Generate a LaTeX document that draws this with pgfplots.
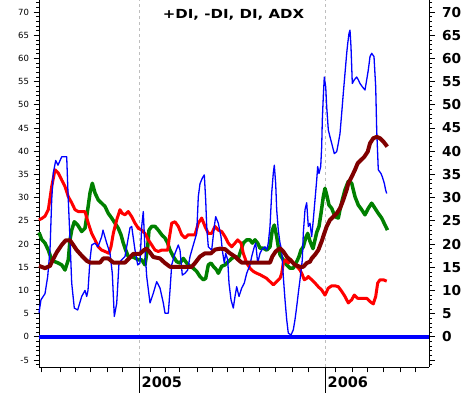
\documentclass[border=0pt]{standalone}
\usepackage{fontspec}
\setmainfont{DejaVu Sans}
\usepackage{pgfplots}
\pgfplotsset{compat=1.18}
\definecolor{dkred}{RGB}{128,0,0}
\definecolor{dgreen}{RGB}{0,128,0}
\definecolor{gridgray}{RGB}{190,190,190}
\begin{document}
\begin{tikzpicture}[x=1pt,y=1pt]
\useasboundingbox (0,0) rectangle (467,393);
\pgfplotsset{
  common/.style={
    at={(39pt,26pt)}, anchor=south west, scale only axis,
    width=390pt, height=367pt,
    xmin=39, xmax=429, ymin=-6.5, ymax=72.6,
    tick align=outside,
    major tick length=5.5pt, minor tick length=3pt,
    ytick={-5,0,...,70}, minor ytick={-6,...,72},
    axis line style={line width=0.9pt},
    every tick/.style={black, line width=0.7pt},
    /pgf/number format/assume math mode=true,
  }
}
\begin{axis}[common,
  axis x line*=bottom, axis y line*=left,
  xtick={41.7,60,75,90,107,122,150,165,179,197,212,227,243,259,275,292,308,335,352,367,383,400,415},
  xticklabels={},
  extra x ticks={139,325}, extra x tick labels={},
  extra x tick style={major tick length=26pt, grid=major},
  major grid style={gridgray, line width=0.8pt, dash pattern=on 3pt off 3pt},
  yticklabel style={font=\fontsize{8.5}{9}\selectfont, xshift=-1pt},
  clip=false,
]
\addplot[blue, line width=4pt] coordinates {(39,0) (429,0)};
% +DI (green)
\addplot[dgreen, line width=3.5pt, line join=round] coordinates {
(39,22.5) (41.7,21) (45,20.2) (48.3,18.7) (51.7,16.6) (55,16.2) (58.3,15.9) (61.7,15.5) (65,14.4) (68.3,16.6)
(70,20.9) (71.7,23) (74.3,24.8) (77.7,24.1) (81.7,22.7) (85,23.4) (87.7,27.4) (90,31) (92.3,33.1) (95,31)
(98.3,29.5) (101.7,28.8) (105,28.1) (108.3,26.6) (111.7,25.6) (115,24.5) (118.3,23.4) (121,22) (123.3,20.2)
(125.7,18.7) (128.3,17.3) (131.7,17.3) (135,17) (138.3,16.6) (141.7,16.6) (145,15.5) (147.7,19.4) (149,23)
(151.7,23.8) (155,23.8) (158.3,23) (161.7,22) (165,21.3) (167.7,20.2) (170,18.7) (173.3,17.3) (176.7,16.2)
(180,15.9) (183.3,16.9) (186.7,15.9) (190,15.2) (193.3,14.8) (196.7,14.1) (200,13) (203.3,12.3) (205.7,12.6)
(208.3,15.5) (211,15.9) (213.3,15.2) (216.7,14.4) (218.3,13.7) (221.7,15.2) (225,15.5) (228.3,16.2) (231.7,16.9)
(235,17.3) (238.3,16.9) (241,18.7) (243.3,20.2) (246.7,20.9) (250,20.9) (252.3,20.2) (255,20.9) (257.7,20.2)
(260,19.1) (263.3,19.1) (266.7,18.7) (270,19.4) (272.3,23) (274.3,24.1) (276.7,21.6) (278.3,19.4) (280,17.7)
(283.3,16.6) (286.7,15.5) (290,14.8) (293.3,14.8) (296.7,16.2) (299,17.3) (301,18.7) (303.3,19.4) (305.7,21.3)
(307.7,22.3) (310,20.6) (313,19) (316.7,22.5) (319,23.8) (321,26.6) (323.3,30.2) (325,32) (326.7,30.6)
(329,28.4) (331.7,27.7) (335,25.9) (338.3,25.6) (340,27.4) (342.3,29.5) (345,31.7) (348.3,33.5) (351.7,33.1)
(355,30.2) (358.3,28.4) (361.7,27.4) (365,26.3) (368.3,27.7) (371.7,28.8) (375,27.7) (378.3,26.6) (381.7,25.6)
(385,24.1) (387.5,23)
};
% -DI (red)
\addplot[red, line width=3pt, line join=round] coordinates {
(39,25.2) (41.7,25.5) (45,26) (48.3,27.4) (51.7,32.4) (55,36) (58.3,35.3) (61.7,33.8) (65,32.4) (68.3,30.2)
(71.7,28.9) (75,27.4) (78.3,27) (85,27) (88.3,24.5) (91.7,22.3) (95,20.9) (98.3,19.4) (101.7,18.7) (105,18.4)
(109,18) (111,19.4) (113.3,22.3) (116.7,25.2) (120,27.4) (122.3,26.6) (125,26.3) (128.3,27) (131.7,25.9)
(135,24.5) (138.3,23.4) (141.7,23) (145,22.3) (148.3,20.9) (151.7,19.8) (155,18.7) (158.3,18.4) (161.7,18.7)
(167.7,18.7) (169,20.9) (171.7,24.5) (175,24.8) (178.3,23.8) (181.7,22) (185,21.3) (188.3,22) (195,22)
(198.3,24.5) (201.7,25.6) (205,23.8) (208.3,22.3) (211.7,22.3) (215,23.8) (218.3,23) (221.7,22.7) (225,21.6)
(228.3,20.2) (231.7,19.4) (235,20.2) (237.7,20.9) (241,20.2) (243.3,18) (246.7,15.9) (250,14.8) (253.3,14.1)
(256.7,13.7) (260,13.4) (263.3,13) (266.7,12.6) (270,11.9) (273.3,11.2) (276.7,11.9) (280,12.6) (281.7,13.7)
(283.3,15.9) (285.7,16.6) (288.3,15.9) (291,16.6) (293.3,15.9) (296.7,15.2) (300,14.4) (302.3,13.4) (304.3,12.3)
(306.7,12.6) (308.3,13) (311.7,12.3) (315,11.6) (318.3,10.8) (321.7,10.1) (325,9) (328.3,10.5) (331.7,11)
(335,11) (338.3,10.8) (341.7,9.8) (345,8.7) (348.3,7.3) (351.7,8) (354.3,9) (357.7,8.3) (366.7,8.3) (370,7.6)
(373.3,7.1) (375.7,8.7) (377.7,11.6) (380,12.3) (383.3,12.3) (386.7,12)
};
% DI (blue)
\addplot[blue, line width=1.3pt, line join=round] coordinates {
(39,5.2) (41,8) (45,9.3) (47.7,13) (50,18.7) (51.7,29.5) (53.3,35.3) (55.7,38) (58,37) (61.7,38.8) (66.7,38.8)
(68,31) (70,21) (71.7,11.6) (74.3,6.2) (77.7,5.8) (81.7,8.7) (85,10) (86.7,8.7) (88,10) (90,16.6) (91.7,19.8)
(95,20.2) (98,19.4) (101.7,21.6) (103,23) (106.7,20.2) (110,18) (112.3,13.7) (114.3,4.4) (116.7,7.2) (119,15.9)
(121.7,16.6) (125,17.3) (130,23.5) (131.7,23.8) (135,18.7) (137.7,15.5) (140,15.9) (141.7,23.8) (143.3,27)
(145,18.7) (146.7,13) (150,7.3) (153.3,9.4) (156.7,11.9) (160,10.5) (163.3,7.3) (165,5.1) (168.3,5.1) (170,10)
(171.7,15.5) (175,18) (178.3,19.8) (180,18.7) (182.3,13.3) (185,13.7) (187.7,14.4) (190,17.3) (193.3,19.8)
(196.7,22.3) (198.3,30.2) (200,33) (202.3,34.2) (204.3,34.9) (205.7,29.5) (206.7,23.8) (208.3,19.4) (211.7,18.7)
(214.3,23.8) (215.7,25.9) (218.3,24.5) (221,21.6) (222.3,18.7) (224.3,15.9) (225.7,18) (227.7,16.6) (229,11.6)
(231,8) (233.3,6.2) (235,8.7) (236.7,10.8) (239,8.7) (241.7,10.5) (244.3,11.6) (246.7,13.7) (250,15.5)
(251.7,17.3) (254.3,19.4) (255.7,20.2) (257.7,15.9) (260,18) (261.7,18.7) (265,19.4) (266.7,18.7) (268.3,20.2)
(270,23.8) (271.7,31) (273.3,35.3) (274.3,37) (275.7,33) (276.7,27.4) (278.3,23) (280,20.2) (281.7,18.7)
(283.3,13) (285,8) (286.7,3.7) (288.3,0.8) (291,0.4) (293.3,1.5) (295,3.7) (296.7,6.5) (298.3,9.4) (300,12.3)
(302.3,16.6) (303.3,22.3) (305,27.4) (306.7,28.9) (308.3,23.8) (310,24.5) (311.7,21.6) (313.3,25.2) (315,29.5)
(316.7,33.8) (317.7,36.7) (319,35.2) (320.7,36.7) (321.7,41) (322.3,46.7) (323.3,51.8) (324.3,56) (325.7,53.9)
(326.7,49.6) (328.3,44.6) (330,43.1) (331.7,41.7) (334.3,39.5) (336.7,39.9) (338.3,41.7) (340,43.8) (341.7,48.2)
(343.3,52.5) (345,56.8) (346.7,61.1) (347.7,63.2) (349,65.4) (350,66.1) (351,62.5) (352.3,54.6) (354.3,55.4)
(356.7,56) (358.3,55.4) (360,54.6) (362.3,53.9) (365,53.2) (366.7,55.4) (368.3,57.5) (370,60.4) (371.7,61.1)
(374,60.4) (375.7,53.9) (376.7,44.6) (378.3,36) (381,35.2) (382.3,34.5) (384.3,33.1) (385.7,31.6) (386.7,30.9)
};
% ADX (dark red)
\addplot[dkred, line width=4pt, line join=round] coordinates {
(39,15.3) (45,14.8) (50,15.3) (53.3,16.8) (56.7,18.2) (61.7,19.8) (65.7,20.8) (70,20.8) (73.3,19.8) (76.7,18.7)
(81.7,17.5) (86.7,16.4) (90,16) (100,16) (103.3,16.9) (108.3,16.9) (113.3,16) (125,16) (130,17.1) (133.3,17.9)
(140,17.9) (144,18.7) (146.7,19) (150,18.2) (153.3,17.2) (160,16.9) (165,15.9) (170,15.1) (191.7,15.1) (195,15.9)
(200,17.3) (205,18) (211,18) (215,18.8) (220,19) (225,18.9) (230,18) (235,17.3) (238.3,16.6) (241.7,16) (270,16)
(272.3,17.3) (275.7,18.4) (280,19.1) (283.3,18.4) (286.7,17.3) (290,16.6) (295,15.5) (300,15.1) (303.3,15.1)
(306.7,15.9) (310,16.2) (311.7,16.9) (315,17.7) (318.3,18.7) (321.7,20.6) (324.3,22.3) (326.7,23.8) (330,25.2)
(333.3,25.9) (336.7,26.6) (340,27.7) (343.3,29.5) (346.7,31.7) (348.3,33.1) (351.7,34.5) (355,36) (357.7,37.4)
(361,38.1) (364.3,38.8) (367.7,39.9) (370,41.7) (373.3,42.8) (376.7,43.1) (380,42.8) (383.3,42.1) (387.3,41)
};
\node[anchor=base, font=\fontsize{12.5}{13}\selectfont\bfseries, xscale=1.2] at (axis cs:233.5,68.7) {+DI, -DI, DI, ADX};
\node[anchor=base west, inner sep=0pt, font=\fontsize{14.5}{15}\selectfont\bfseries] at ([yshift=-21pt]axis cs:141.5,-6.5) {2005};
\node[anchor=base west, inner sep=0pt, font=\fontsize{14.5}{15}\selectfont\bfseries] at ([yshift=-21pt]axis cs:327.5,-6.5) {2006};
\end{axis}
\begin{axis}[common,
  axis x line=none, axis y line*=right,
  xtick=\empty,
  yticklabels={,0,5,10,15,20,25,30,35,40,45,50,55,60,65,70},
  yticklabel style={font=\fontsize{13.7}{14}\selectfont\bfseries, anchor=west, xshift=4pt},
]
\end{axis}
\end{tikzpicture}
\end{document}
